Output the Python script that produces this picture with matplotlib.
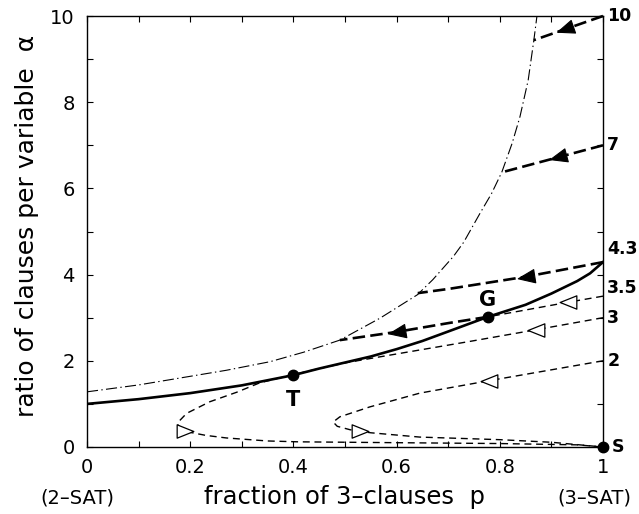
import numpy as np
import matplotlib
matplotlib.use('Agg')
import matplotlib.pyplot as plt
from matplotlib.path import Path
from matplotlib.markers import MarkerStyle
from matplotlib.transforms import Affine2D

plt.rcParams['font.family'] = ['DejaVu Sans']
plt.rcParams['lines.scale_dashes'] = False

# ---------------- data ----------------
# threshold line alpha_c(p)
thr_p = [0.0, 0.1, 0.2, 0.3, 0.4, 0.45, 0.5, 0.55, 0.6, 0.65, 0.7, 0.777, 0.85, 0.9, 0.95, 0.975, 1.0]
thr_a = [1.0, 1.11, 1.25, 1.43, 1.667, 1.82, 1.96, 2.1, 2.27, 2.46, 2.68, 3.02, 3.3, 3.56, 3.85, 4.03, 4.29]

# dash-dot line
dd_p = [0.0, 0.1, 0.18, 0.27, 0.355, 0.42, 0.49, 0.568, 0.64, 0.67, 0.69, 0.71, 0.73, 0.762,
        0.784, 0.804, 0.824, 0.839, 0.855, 0.866, 0.872]
dd_a = [1.28, 1.44, 1.6, 1.78, 1.98, 2.2, 2.48, 2.99, 3.53, 3.88, 4.15, 4.42, 4.75, 5.43,
        5.88, 6.38, 7.05, 7.66, 8.51, 9.44, 10.0]

# thick dashed trajectories (unsat region)
t10_p = [1.0, 0.866]
t10_a = [10.0, 9.44]
t7_p = [1.0, 0.806]
t7_a = [7.0, 6.38]
t43_p = [1.0, 0.85, 0.702, 0.641]
t43_a = [4.29, 3.95, 3.67, 3.57]
tG_p = [0.777, 0.703, 0.60, 0.49]
tG_a = [3.02, 2.88, 2.67, 2.48]

# thin dashed trajectories (sat region)
t35_p = [1.0, 0.933, 0.777]
t35_a = [3.5, 3.36, 3.02]
t3_p = [1.0, 0.87, 0.742, 0.62, 0.504, 0.45, 0.4, 0.335, 0.29, 0.238, 0.193, 0.177, 0.176,
        0.183, 0.2, 0.23, 0.27, 0.35, 0.41, 0.6, 0.8, 0.95, 1.0]
t3_a = [3.0, 2.72, 2.45, 2.2, 1.96, 1.82, 1.68, 1.49, 1.27, 1.05, 0.78, 0.58, 0.52,
        0.42, 0.34, 0.27, 0.21, 0.14, 0.12, 0.1, 0.08, 0.05, 0.0]
t2_p = [1.0, 0.78, 0.645, 0.548, 0.49, 0.477, 0.485, 0.51, 0.55, 0.645, 0.8, 0.9, 1.0]
t2_a = [2.0, 1.54, 1.25, 0.93, 0.70, 0.58, 0.48, 0.40, 0.33, 0.23, 0.17, 0.11, 0.0]

# arrows
fill_arrow_p = [0.926, 0.913, 0.85, 0.60]
fill_arrow_a = [9.69, 6.72, 3.95, 2.67]
open_arrow_p = [0.933, 0.87, 0.78, 0.19, 0.53]
open_arrow_a = [3.36, 2.72, 1.54, 0.36, 0.36]
open_arrow_dir = [-1, -1, -1, 1, 1]

# special points
pt_names = ['T', 'G', 'S']
pt_p = [0.4, 0.777, 1.0]
pt_a = [1.667, 3.02, 0.0]

# right-side labels
rlab_text = ['10', '7', '4.3', '3.5', '3', '2', 'S']
rlab_a = [10.0, 7.0, 4.6, 3.7, 3.0, 2.0, 0.0]

xtick_vals = [0, 0.2, 0.4, 0.6, 0.8, 1.0]
xtick_labels = ['0', '0.2', '0.4', '0.6', '0.8', '1']
ytick_vals = [0, 2, 4, 6, 8, 10]
ytick_labels = ['0', '2', '4', '6', '8', '10']

# ---------------- figure ----------------
W, H = 639, 514
fig = plt.figure(figsize=(W / 100, H / 100), dpi=100)
ax = fig.add_axes([87 / W, (H - 447) / H, 516 / W, 431 / H])
ax.set_xlim(0, 1)
ax.set_ylim(0, 10)

thin_dash = (0, (5.0, 3.4))
thick_dash = (0, (9.0, 3.8))
dashdot = (0, (8.0, 2.4, 1.0, 2.4))

ax.plot(dd_p, dd_a, color='black', lw=0.8, linestyle=dashdot, zorder=2)
for P, A in [(t35_p, t35_a), (t3_p, t3_a), (t2_p, t2_a)]:
    ax.plot(P, A, color='black', lw=1.0, linestyle=thin_dash, zorder=2, clip_on=False)
ax.plot(thr_p, thr_a, color='black', lw=1.9, zorder=3)
for P, A in [(t10_p, t10_a), (t7_p, t7_a), (t43_p, t43_a), (tG_p, tG_a)]:
    ax.plot(P, A, color='black', lw=1.9, linestyle=thick_dash, zorder=4, clip_on=False)

# arrow marker: triangle pointing to +x
tri = Path([(1, 0), (-1, 0.8), (-1, -0.8), (1, 0)],
           [Path.MOVETO, Path.LINETO, Path.LINETO, Path.CLOSEPOLY])

trajs = [(t10_p, t10_a), (t7_p, t7_a), (t43_p, t43_a), (tG_p, tG_a)]
for (P, A), xp, ya in zip(trajs, fill_arrow_p, fill_arrow_a):
    d = ax.transData.transform(np.column_stack([P, A]))
    c = ax.transData.transform((xp, ya))
    best, ang = 1e9, 180.0
    for i in range(len(d) - 1):
        mid = (d[i] + d[i + 1]) / 2
        dist = np.hypot(*(mid - c))
        if dist < best:
            best = dist
            v = d[i + 1] - d[i]
            ang = np.degrees(np.arctan2(v[1], v[0]))
    m = MarkerStyle(tri, transform=Affine2D().rotate_deg(ang))
    ax.plot([xp], [ya], marker=m, markersize=12, color='black',
            markeredgewidth=0.8, linestyle='none', zorder=5)

for xp, ya, dr in zip(open_arrow_p, open_arrow_a, open_arrow_dir):
    m = MarkerStyle(tri, transform=Affine2D().rotate_deg(0 if dr > 0 else 180))
    ax.plot([xp], [ya], marker=m, markersize=12, markerfacecolor='white',
            markeredgecolor='black', markeredgewidth=0.9, linestyle='none', zorder=5)

ax.plot(pt_p, pt_a, 'o', color='black', markersize=7.5, zorder=6, clip_on=False)
ax.text(0.4, 1.09, 'T', fontsize=15, fontweight='bold', ha='center', va='center')
ax.text(0.777, 3.41, 'G', fontsize=15, fontweight='bold', ha='center', va='center')

for t, a in zip(rlab_text, rlab_a):
    off = 6 if t == 'S' else 3
    ax.annotate(t, xy=(1.0, a), xytext=(off, 0), textcoords='offset points',
                fontsize=12.5, fontweight='bold', ha='left', va='center',
                annotation_clip=False)

# ticks
ax.set_xticks(xtick_vals)
ax.set_xticklabels(xtick_labels)
ax.set_xticks(np.arange(0.1, 1.0, 0.2), minor=True)
ax.set_yticks(ytick_vals)
ax.set_yticklabels(ytick_labels)
ax.set_yticks(np.arange(1, 10, 2), minor=True)
ax.tick_params(which='both', direction='in', top=True, right=True,
               length=4, width=0.8, labelsize=14)
ax.tick_params(axis='x', which='major', pad=8)
ax.tick_params(axis='y', which='major', pad=9)
for s in ax.spines.values():
    s.set_linewidth(1.0)

fig.text(345 / W, 1 - 497 / H, 'fraction of 3\u2013clauses  p', fontsize=17.5,
         ha='center', va='center')
fig.text(77 / W, 1 - 498 / H, '(2\u2013SAT)', fontsize=14, ha='center', va='center')
fig.text(594 / W, 1 - 498 / H, '(3\u2013SAT)', fontsize=14, ha='center', va='center')
fig.text(27 / W, 1 - 226 / H, 'ratio of clauses per variable  \u03b1', fontsize=18,
         rotation=90, ha='center', va='center')

fig.savefig('out.png', dpi=100)
